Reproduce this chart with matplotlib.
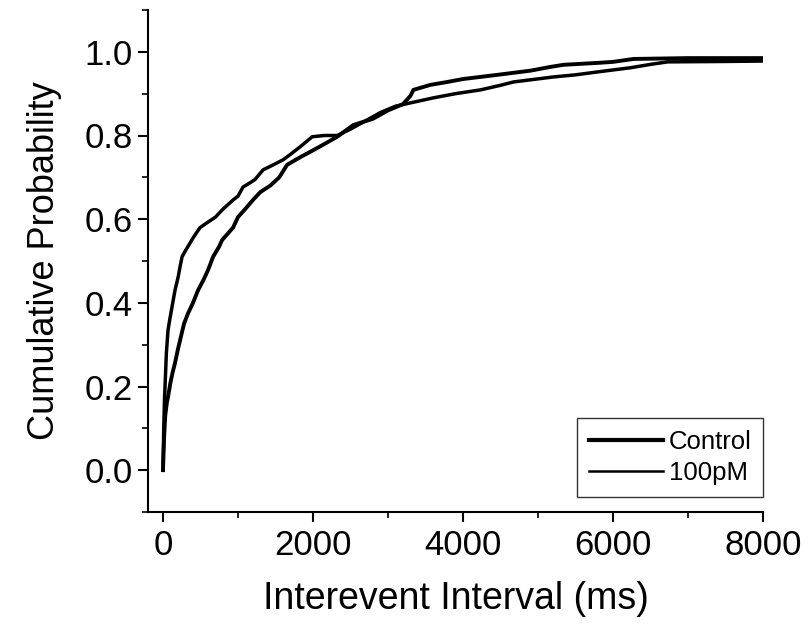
import matplotlib
matplotlib.use("Agg")
import matplotlib.pyplot as plt
from matplotlib.ticker import MultipleLocator

plt.rcParams['font.family'] = ['Liberation Sans', 'DejaVu Sans']

# Curve: Control
control_x = [0, 15, 30, 50, 67, 100, 130, 160, 200, 227, 280, 334, 400, 467, 540, 600,
             668, 750, 788, 935, 1000, 1100, 1200, 1300, 1429, 1550, 1655, 1829, 2056,
             2323, 2537, 2800, 3000, 3200, 3300, 3338, 3565, 3792, 4000, 4459, 4900,
             5167, 5340, 5834, 6000, 6275, 7000, 8000]
control_y = [0.0, 0.08, 0.13, 0.16, 0.175, 0.21, 0.235, 0.256, 0.29, 0.31, 0.35, 0.375,
             0.40, 0.43, 0.455, 0.478, 0.51, 0.535, 0.55, 0.58, 0.605, 0.625, 0.646,
             0.665, 0.68, 0.70, 0.73, 0.748, 0.77, 0.797, 0.825, 0.84, 0.86, 0.875,
             0.895, 0.909, 0.921, 0.928, 0.935, 0.945, 0.955, 0.964, 0.969, 0.974,
             0.976, 0.983, 0.985, 0.985]

# Curve: 100pM
pm_x = [0, 10, 20, 27, 45, 67, 90, 120, 160, 200, 227, 254, 300, 334, 400, 494, 600,
        700, 788, 935, 1000, 1068, 1162, 1228, 1335, 1450, 1602, 1700, 1829, 1989,
        2150, 2323, 2497, 2700, 2900, 3100, 3300, 3605, 3900, 4232, 4500, 4673, 5207,
        5500, 5794, 6235, 6500, 6729, 7500, 8000]
pm_y = [0.0, 0.1, 0.17, 0.2, 0.28, 0.335, 0.36, 0.39, 0.43, 0.46, 0.486, 0.51, 0.525,
        0.535, 0.555, 0.58, 0.593, 0.605, 0.622, 0.646, 0.655, 0.677, 0.687, 0.695,
        0.718, 0.728, 0.742, 0.755, 0.773, 0.797, 0.80, 0.80, 0.815, 0.835, 0.855,
        0.87, 0.878, 0.89, 0.90, 0.909, 0.92, 0.928, 0.94, 0.945, 0.952, 0.962, 0.97,
        0.976, 0.977, 0.978]

series_labels = ["Control", "100pM"]
x_ticks = [0, 2000, 4000, 6000, 8000]
y_ticks = [0.0, 0.2, 0.4, 0.6, 0.8, 1.0]

fig = plt.figure(figsize=(8.1, 6.29), dpi=100)
ax = fig.add_axes([148/810, 1 - 512/629, (763 - 148)/810, (512 - 10)/629])

ax.plot(control_x, control_y, color='black', lw=2.8, label=series_labels[0],
        solid_joinstyle='round')
ax.plot(pm_x, pm_y, color='black', lw=2.5, label=series_labels[1],
        solid_joinstyle='round')

ax.set_xlim(-200, 8000)
ax.set_ylim(-0.1, 1.1)
ax.set_xticks(x_ticks)
ax.set_xticklabels([str(v) for v in x_ticks])
ax.set_yticks(y_ticks)
ax.set_yticklabels([f"{v:.1f}" for v in y_ticks])
ax.xaxis.set_minor_locator(MultipleLocator(1000))
ax.yaxis.set_minor_locator(MultipleLocator(0.1))

for s in ['top', 'right']:
    ax.spines[s].set_visible(False)
for s in ['left', 'bottom']:
    ax.spines[s].set_linewidth(1.5)

ax.tick_params(axis='both', which='major', direction='out', length=7, width=1.5,
               labelsize=25, pad=5)
ax.tick_params(axis='y', which='major', pad=4)
ax.tick_params(axis='both', which='minor', direction='out', length=4, width=1.2)

ax.set_xlabel("Interevent Interval (ms)", fontsize=27, labelpad=14)
ax.set_ylabel("Cumulative Probability", fontsize=26, labelpad=16)

leg = ax.legend(loc='lower right', bbox_to_anchor=(1.0, 0.03), fontsize=18.5,
                frameon=True, fancybox=False, edgecolor='black', handlelength=2.9,
                handletextpad=0.2, borderpad=0.45, labelspacing=0.3,
                borderaxespad=0.0)
leg.get_frame().set_linewidth(1.0)
for line, lw in zip(leg.get_lines(), [3.0, 1.8]):
    line.set_linewidth(lw)

fig.savefig("out.png", dpi=100, facecolor='white')
